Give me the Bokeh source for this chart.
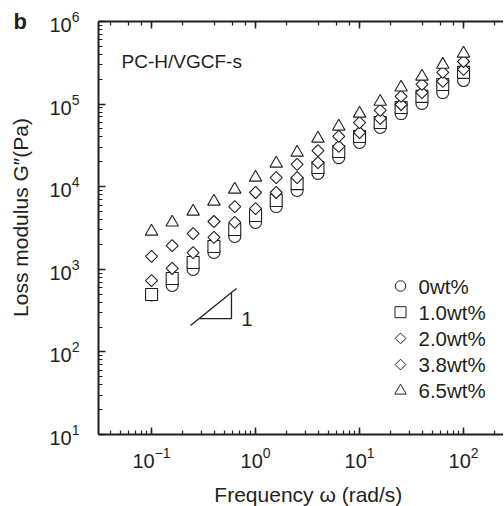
import numpy as np
from bokeh.plotting import figure
from bokeh.models import LogAxis, Label, Range1d, ColumnDataSource
from bokeh.embed import file_html
from bokeh.resources import INLINE
from bokeh.core.properties import value

# ---- data ----
freq = [0.1, 0.158, 0.251, 0.398, 0.631, 1.0, 1.58, 2.51, 3.98, 6.31,
        10.0, 15.8, 25.1, 39.8, 63.1, 100.0]
g_0wt = [490, 637, 995, 1600, 2500, 3690, 5750, 9000, 14500, 22500,
         34300, 52100, 76900, 102000, 138000, 193000]
g_10wt = [495, 774, 1208, 1890, 3030, 4480, 6810, 10900, 17100, 26700,
          40600, 59800, 91000, 124000, 173000, 242000]
g_20wt = [731, 1023, 1596, 2430, 3690, 5440, 8510, 12900, 19600, 30700,
          45300, 67000, 98900, 138000, 188000, 263000]
g_38wt = [1430, 1940, 2710, 3790, 5750, 8510, 12900, 18600, 27400, 40600,
          59800, 83800, 124000, 173000, 242000, 328000]
g_65wt = [2870, 3690, 5010, 6620, 9250, 12900, 19100, 25900, 38300, 53600,
          76900, 107000, 159000, 216000, 301000, 410000]
series_labels = ["0wt%", "1.0wt%", "2.0wt%", "3.8wt%", "6.5wt%"]

# slope-1 guide triangle
slope_line_x = [0.237, 0.656]
slope_line_y = [209, 586]
slope_leg_x = [0.29, 0.587, 0.587]
slope_leg_y = [253, 253, 518]

FONT = "Liberation Sans"
INK = "#231f20"

X0, X1 = -1.51, 2.384          # log10 x-range
FW, FH = 405, 413              # frame size in px

p = figure(x_axis_type="log", y_axis_type="log",
           x_range=Range1d(10 ** X0, 10 ** X1),
           y_range=Range1d(10, 1e6),
           frame_width=FW, frame_height=FH,
           min_border_left=98, min_border_right=0,
           min_border_top=21, min_border_bottom=68,
           output_backend="svg", toolbar_location=None,
           title="b")
p.outline_line_color = None
p.grid.visible = False
p.background_fill_color = "white"
p.border_fill_color = "white"

# panel letter as the title, pulled to the left edge and down beside "10^6"
p.title.text_font = FONT
p.title.text_font_size = "22px"
p.title.text_font_style = "bold"
p.title.text_color = INK
p.title.align = "left"
p.title.offset = -85
p.title.vertical_align = "bottom"
p.title.standoff = -25

for ax in (p.xaxis[0], p.yaxis[0]):
    ax.axis_line_width = 2
    ax.axis_line_color = INK
    ax.major_tick_line_color = INK
    ax.minor_tick_line_color = INK
    ax.major_tick_line_width = 1.5
    ax.minor_tick_line_width = 1.2
    ax.major_tick_in = 7
    ax.major_tick_out = 0
    ax.minor_tick_in = 4
    ax.minor_tick_out = 0
    ax.major_label_text_font = FONT
    ax.major_label_text_font_size = "20px"
    ax.major_label_text_color = INK
    ax.axis_label_text_font = FONT
    ax.axis_label_text_font_size = "21px"
    ax.axis_label_text_font_style = "normal"
    ax.axis_label_text_color = INK

p.xaxis[0].axis_label = "\u2002\u2009Frequency \u03c9 (rad/s)"
p.yaxis[0].axis_label = "\u2003Loss modulus G\u2033(Pa)"
p.xaxis[0].major_label_standoff = 12
p.xaxis[0].axis_label_standoff = 12
p.yaxis[0].major_label_standoff = 19
p.yaxis[0].axis_label_standoff = 14

top = LogAxis(axis_line_width=2, axis_line_color=INK,
              major_tick_in=7, major_tick_out=0, minor_tick_in=4, minor_tick_out=0,
              major_tick_line_color=INK, minor_tick_line_color=INK,
              major_tick_line_width=1.5, minor_tick_line_width=1.2,
              major_label_text_font_size="2px", major_label_text_alpha=0,
              major_label_standoff=0)
p.add_layout(top, "above")

common = dict(fill_color="white", line_color=INK, line_width=1.1)
p.scatter(freq, g_0wt, marker="circle", size=12, **common)
p.scatter(freq, g_10wt, marker="square", size=12, **common)
p.scatter(freq, g_20wt, marker="square", angle=np.pi / 4, size=8.5, **common)
p.scatter(freq, g_38wt, marker="square", angle=np.pi / 4, size=8.5, **common)
p.scatter(freq, g_65wt, marker="triangle", size=12.5, **common)

p.line(slope_line_x, slope_line_y, line_color=INK, line_width=1.3)
p.line(slope_leg_x, slope_leg_y, line_color=INK, line_width=1.3)
p.add_layout(Label(x=slope_leg_x[1], y=slope_leg_y[0], text="1", x_offset=10,
                   text_font=FONT, text_font_size="20px", text_color=INK,
                   text_baseline="middle"))

p.add_layout(Label(x=0.0515, y=3.28e5, text="PC-H/VGCF-s",
                   text_font=FONT, text_font_size="19px", text_color=INK,
                   text_baseline="middle"))

# ---- legend (keys drawn through the plot scales, placed by pixel offsets) ----
px_per_dec_x = FW / (X1 - X0)
px_per_dec_y = FH / 5.0
key_px, text_px = 302, 320          # from frame left
row0_px, row_step = 264.5, 26.2     # from frame top
rows = [10 ** (6 - (row0_px + i * row_step) / px_per_dec_y) for i in range(5)]
key_x = 10 ** (X0 + key_px / px_per_dec_x)
txt_x = 10 ** (X0 + text_px / px_per_dec_x)
leg = ColumnDataSource(dict(x=[key_x] * 5, y=rows, label=series_labels,
                            marker=["circle", "square", "square", "square", "triangle"],
                            size=[10.5, 11, 7.6, 7.6, 11.5],
                            angle=[0, 0, np.pi / 4, np.pi / 4, 0]))
p.scatter("x", "y", marker="marker", size="size", angle="angle", source=leg,
          fill_color="white", line_color=INK, line_width=1.0)
p.text(x=[txt_x] * 5, y=rows, text=series_labels, text_font=value(FONT),
       text_font_size="20.5px", text_color=INK, text_baseline="middle",
       text_align="left")

open("out.html", "w").write(file_html(p, INLINE))
